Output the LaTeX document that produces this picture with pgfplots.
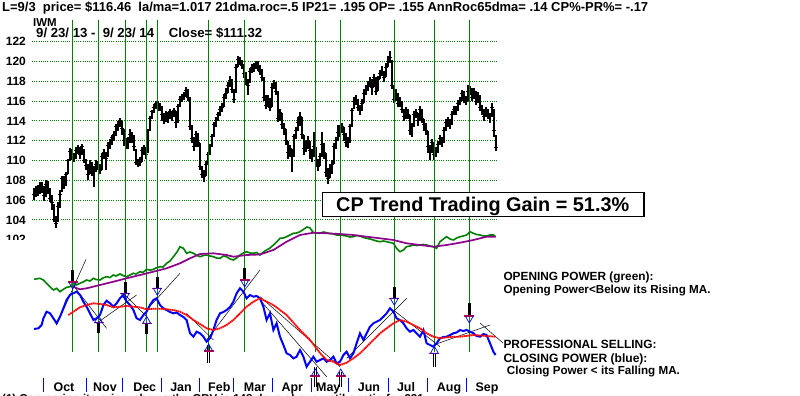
\documentclass[border=0pt]{standalone}
\usepackage{fontspec}
\setmainfont{Liberation Sans}
\usepackage{graphicx}
\usepackage{pgfplots}
\pgfplotsset{compat=1.18}
\usepackage{pgfplotstable}
\definecolor{grn}{RGB}{0,128,0}
\definecolor{purp}{RGB}{140,0,140}
\newcommand\hb[1]{\bfseries\fontsize{#1}{#1}\selectfont}
\pgfplotstableread{
k lo hi cl
0 106.0 107.2 106.6
1 106.3 107.4 107.0
2 106.4 107.5 106.8
3 106.6 107.8 107.4
4 106.7 107.8 107.2
5 105.9 107.4 106.5
6 106.3 108.0 107.6
7 106.6 107.9 107.0
8 105.8 107.2 106.2
9 105.0 106.5 105.8
10 103.8 105.6 104.0
11 103.2 104.4 103.6
12 103.8 105.8 105.4
13 105.2 107.0 106.6
14 106.8 108.4 108.2
15 107.1 108.4 107.5
16 107.4 108.8 108.6
17 108.6 110.2 110.0
18 109.9 111.3 110.9
19 110.0 111.2 110.4
20 109.8 110.8 110.2
21 110.2 111.4 111.0
22 110.7 111.6 111.2
23 110.2 111.4 110.6
24 110.6 111.7 111.4
25 109.7 111.2 110.0
26 109.0 110.2 109.5
27 108.0 109.6 108.6
28 108.6 110.0 109.6
29 108.4 109.8 108.8
30 107.3 109.4 109.0
31 108.8 110.0 109.6
32 109.0 109.9 109.4
33 108.6 109.6 109.0
34 109.0 110.8 110.4
35 110.2 111.2 110.8
36 109.0 110.9 110.2
37 110.4 111.9 111.5
38 111.2 112.2 111.8
39 111.6 112.6 112.3
40 112.0 113.0 112.6
41 112.5 113.7 113.4
42 113.0 114.0 113.6
43 113.4 114.3 114.0
44 112.6 114.0 113.2
45 111.5 113.2 112.0
46 111.2 112.3 111.6
47 111.2 112.4 111.8
48 111.8 113.2 112.6
49 111.8 112.9 112.4
50 111.0 112.6 111.4
51 109.5 111.2 109.8
52 109.3 110.2 109.6
53 109.4 110.4 109.8
54 109.8 111.4 111.0
55 110.6 111.6 111.3
56 110.2 111.4 110.6
57 110.8 113.2 113.0
58 113.0 114.5 114.2
59 114.2 115.1 114.9
60 114.8 115.7 115.4
61 115.2 116.0 115.8
62 115.0 116.0 115.3
63 115.0 115.8 115.5
64 114.0 115.5 114.6
65 113.7 114.8 114.0
66 113.9 115.0 114.6
67 113.8 114.9 114.3
68 114.2 115.2 114.9
69 114.0 115.0 114.5
70 114.4 115.3 115.0
71 113.3 115.0 113.8
72 113.8 115.7 115.5
73 115.4 116.5 116.2
74 115.9 116.7 116.4
75 116.1 116.9 116.6
76 116.4 117.4 117.1
77 116.0 117.2 116.4
78 113.1 116.4 113.4
79 111.8 113.6 112.2
80 111.0 112.4 111.4
81 111.4 113.0 112.6
82 111.4 112.8 111.8
83 109.0 111.8 109.4
84 108.2 109.4 108.6
85 107.8 109.0 108.4
86 108.4 109.9 109.6
87 109.6 110.9 110.6
88 110.6 111.7 111.4
89 111.4 112.7 112.4
90 112.4 113.9 113.6
91 113.4 114.4 114.0
92 114.0 114.9 114.6
93 114.5 115.5 115.2
94 114.9 115.8 115.4
95 115.4 116.7 116.4
96 116.2 117.3 116.8
97 116.8 117.9 117.6
98 117.4 118.5 118.1
99 116.8 118.2 117.2
100 115.8 117.2 116.2
101 116.8 119.7 119.4
102 119.4 120.6 120.2
103 119.6 120.5 120.0
104 119.2 120.2 119.6
105 118.3 119.7 118.8
106 117.6 118.9 118.0
107 116.6 118.2 117.6
108 117.8 119.3 119.0
109 118.8 119.7 119.4
110 118.9 119.8 119.3
111 119.2 120.1 119.8
112 119.0 120.0 119.4
113 118.6 119.6 119.0
114 118.0 119.2 118.4
115 116.0 118.4 116.4
116 115.2 116.6 115.6
117 115.4 116.6 116.2
118 115.0 116.3 115.4
119 115.4 117.8 117.4
120 117.2 118.1 117.8
121 116.6 117.9 117.0
122 113.9 117.0 114.2
123 114.0 115.2 114.8
124 113.2 114.8 113.6
125 112.6 113.8 113.2
126 111.6 113.2 112.0
127 110.2 112.0 110.8
128 110.4 111.6 111.2
129 108.8 111.2 110.4
130 110.4 112.7 112.4
131 112.2 113.4 113.0
132 113.0 114.4 113.8
133 113.5 114.9 114.4
134 112.2 114.4 112.6
135 110.6 112.6 111.2
136 110.9 112.0 111.6
137 111.2 112.5 112.0
138 110.2 112.0 111.0
139 109.8 111.2 110.4
140 110.4 112.9 111.4
141 109.4 111.4 110.0
142 108.9 110.2 109.4
143 109.4 110.8 110.4
144 110.4 112.9 111.6
145 110.2 111.8 110.8
146 108.3 110.8 108.8
147 107.6 109.2 108.2
148 108.2 109.6 109.0
149 108.6 110.0 109.6
150 109.6 111.8 111.4
151 111.2 112.4 112.0
152 112.0 113.6 112.8
153 112.4 113.6 113.0
154 112.8 113.8 113.4
155 112.0 113.4 112.6
156 111.4 112.8 111.8
157 111.3 112.4 111.8
158 111.8 113.7 113.4
159 113.4 115.3 115.0
160 115.2 116.4 116.0
161 115.6 116.6 116.2
162 115.0 116.2 115.4
163 114.6 115.6 115.0
164 115.0 116.2 115.8
165 115.8 117.2 116.8
166 116.6 117.6 117.2
167 117.0 118.0 117.6
168 117.4 118.4 118.0
169 116.6 118.2 117.4
170 117.4 118.7 118.4
171 116.6 118.4 117.0
172 117.0 118.5 118.2
173 118.2 119.1 118.8
174 118.5 119.5 119.0
175 117.9 119.0 118.4
176 118.4 119.8 119.4
177 119.4 120.6 120.0
178 119.8 121.1 120.4
179 117.2 120.2 117.6
180 115.8 117.6 116.2
181 116.0 117.2 116.8
182 115.4 116.8 115.8
183 115.4 116.4 116.0
184 114.8 116.0 115.2
185 114.0 115.2 114.4
186 114.2 115.4 115.0
187 114.2 115.2 114.6
188 112.6 114.6 113.0
189 112.4 113.8 113.4
190 113.4 115.0 114.6
191 114.3 115.2 114.8
192 113.5 114.8 114.0
193 114.0 115.5 115.2
194 113.8 115.2 114.2
195 113.0 114.2 113.6
196 112.6 113.8 113.0
197 110.8 113.0 111.4
198 110.0 111.6 110.8
199 110.8 112.2 111.8
200 110.0 111.8 110.6
201 110.4 111.4 111.0
202 110.8 112.0 111.6
203 111.6 112.6 112.2
204 111.4 112.4 111.8
205 111.8 113.4 113.0
206 113.0 114.2 113.8
207 113.4 114.4 114.0
208 113.2 114.2 113.6
209 113.6 115.0 114.6
210 114.6 115.5 115.2
211 114.6 115.5 115.0
212 115.0 116.1 115.8
213 115.6 116.4 116.0
214 116.0 117.1 116.8
215 115.8 117.0 116.2
216 115.6 116.5 116.0
217 116.0 117.6 117.0
218 116.6 117.5 117.2
219 116.0 117.3 116.4
220 116.2 117.3 117.0
221 115.6 117.0 116.0
222 115.8 116.9 116.6
223 115.0 116.6 115.4
224 114.6 115.6 115.0
225 114.0 115.2 114.4
226 114.4 115.4 115.0
227 114.2 115.2 114.6
228 113.8 114.8 114.4
229 114.4 115.8 115.4
230 112.4 115.2 113.0
231 111.0 112.6 111.3
}\price
\pgfplotsset{base/.style={at={(0bp,0bp)},anchor=south west,scale only axis,
  width=800bp,height=395bp,xmin=-17,xmax=383,
  axis line style={draw=none},tick style={draw=none},
  /pgf/number format/assume math mode=true}}
\begin{document}
\begin{tikzpicture}[x=1bp,y=1bp]
\useasboundingbox (0,0) rectangle (800,395);
\clip (0,0) rectangle (800,395);
\fill[white] (0,0) rectangle (800,395);
% ---------------- price panel
\begin{axis}[base, ymin=86.313, ymax=126.212, xtick=\empty,
  ytick={102,104,...,122},
  yticklabel style={anchor=east,xshift=26bp,inner sep=0pt,font=\hb{12}}]
\pgfplotsinvokeforeach{104,106,...,122}{
  \addplot[grn,line width=0.8bp,dash pattern=on 1bp off 1.2bp] coordinates {(-1,#1)(231.5,#1)};}
\addplot[black, only marks, mark=-, mark size=2bp, mark options={line width=1bp},
  error bars/.cd, y dir=both, y explicit, error mark=none,
  error bar style={line width=1.2bp,black}]
  table[x=k,y=cl,y error plus expr=\thisrow{hi}-\thisrow{cl},
        y error minus expr=\thisrow{cl}-\thisrow{lo}]{\price};
\end{axis}
% ---------------- indicator panels
\begin{axis}[base, ymin=0, ymax=395, ytick=\empty,
  xtick={15,35.5,55.35,73.5,92.65,110.5,129.15,147.15,167.5,186,207.5,226.5},
  xticklabels={Oct,Nov,Dec,Jan,Feb,Mar,Apr,May,Jun,Jul,Aug,Sep},
  xticklabel style={anchor=base,yshift=3.3bp,inner sep=0pt,font=\hb{12.5}}]
\fill[white] (axis cs:-17,0) rectangle (axis cs:-1.5,155.5);
\pgfplotsinvokeforeach{19.35,32.25,45.65,56.35,61.65,87.35,105.35,140.65,153.35,180.15,200.2,217.65}{
  \addplot[grn,line width=1.3bp] coordinates {(#1,43)(#1,375)};}
% thin trend lines
\addplot[black,line width=0.5bp] coordinates {(11.3,70)(26,135.7)};
\addplot[black,line width=0.5bp] coordinates {(18.8,111.7)(36.3,66.7)};
\addplot[black,line width=0.5bp] coordinates {(31.3,71.7)(51.3,100)};
\addplot[black,line width=0.5bp] coordinates {(44.7,101.7)(56.3,78.3)};
\addplot[black,line width=0.5bp] coordinates {(56.3,85)(73,121.7)};
\addplot[black,line width=0.5bp] coordinates {(76.3,81.7)(89.7,55)};
\addplot[black,line width=0.5bp] coordinates {(86.3,55)(113,125)};
\addplot[black,line width=0.5bp] coordinates {(113,98.3)(153,28.3)};
\addplot[black,line width=0.5bp] coordinates {(113,95)(146.3,18.3)};
\addplot[black,line width=0.5bp] coordinates {(156.3,36.7)(186.3,96.7)};
\addplot[black,line width=0.5bp] coordinates {(179.7,85)(203,48.3)};
\addplot[black,line width=0.5bp] coordinates {(199.7,50)(228,70)};
\addplot[black,line width=0.5bp] coordinates {(223,72)(234.5,52)};
% opening power and its MA
\addplot[grn,line width=1.6bp] coordinates {(0,115.7)(3,116.7)(4.7,115)(6.3,111.7)(8,108.3)(9.7,105)(11.3,106.7)(13,103.3)(14.7,105.7)(16.3,107.7)(18,108.3)(19.7,111.7)(21,110)(23,111.7)(24.5,113)(26.3,115)(28,114)(29.7,116.7)(31,115.5)(33,115)(34.5,117)(36.3,118.3)(38,117.5)(39.7,120)(41,119)(43,121)(44.5,119.5)(46.3,118.3)(48,120)(49.7,121.7)(51,121)(53,123.3)(54.5,122.5)(56.3,125.7)(58,124.8)(59.7,125.7)(61,127)(63,128.3)(64.5,128)(66.3,131.7)(68,134)(69.7,138.3)(71.5,143)(73,148.3)(74.7,146.7)(76.3,141.7)(78,143)(79.7,141.7)(81.5,139.5)(83,138.3)(84.7,139.5)(86.3,140)(88,139)(89.7,138.3)(91.3,137)(93,136.7)(94.7,139)(96.3,138.3)(98,136)(99.7,135)(101.3,137)(103,140)(104.7,142)(106.3,143.3)(108,142)(109.7,141.7)(111.3,142.5)(113,140)(114.7,143)(116.3,145)(118,147)(119.7,150)(121.3,153)(123,156.7)(124.7,157)(126.3,158.3)(128,160)(129.7,161.7)(131.3,162)(133,163.3)(135,166)(136.5,168)(138,167)(139.7,162.3)(141.3,162)(143,161.7)(144.7,163)(146.3,162.3)(148,161.5)(149.7,161)(151.3,160)(153,160)(154.7,159.5)(156.3,159)(158,158)(159.7,158.3)(161.3,159.5)(163,159)(164.7,157.5)(166.3,156.7)(168,156)(169.7,155)(171.3,154)(173,153.3)(174.7,154)(176.3,153.3)(178,152.5)(179.7,151.7)(181.3,146.7)(183,143.3)(184.7,145)(186.3,148.3)(188,149)(189.7,150)(191.3,149.5)(193,150)(194.7,150.5)(196.3,150)(198,149)(199.7,148.3)(201.3,146.7)(203,153.3)(204.7,156)(206.3,158.3)(208,156)(209.7,155)(211.3,157)(213,158.3)(214.7,159)(216.3,160)(218,163.3)(219.7,161.7)(221.3,160.5)(223,160)(224.7,159)(226.3,159)(228,160)(229.7,160)(230.8,158.3)};
\addplot[purp,line width=1.7bp] coordinates {(19.8,108.3)(21.5,106.7)(23,105.7)(26.3,106.7)(33,110)(39.7,113.3)(46.3,116.7)(53,120)(59.7,123.3)(66.3,126.7)(73,131.7)(78,136.7)(83,141)(89.7,141.7)(96.3,140)(99.7,138.3)(106.3,140)(113,140.5)(119.7,145)(126.3,153.3)(133,160)(139.7,162.3)(146.3,161.7)(153,161)(159.7,160)(166.3,158.3)(173,156.7)(179.7,155)(186.3,151.7)(193,150)(199.7,148.3)(206.3,150)(213,152.3)(219.7,155)(226.3,158.3)(230.8,158.3)};
% closing power and its MA
\addplot[blue,line width=2bp] coordinates {(0,66)(2.2,66.7)(3.8,70)(4.7,76.7)(6.3,83.3)(8,81.7)(9.7,76.7)(11.3,71.7)(13,78.3)(14.7,86.7)(16.3,95)(18,100)(19.7,101.7)(21.3,103.3)(23,100)(24.7,93.3)(26.3,88.3)(28,81.7)(29.7,75)(31.3,76.7)(33,80)(34.7,90)(36.3,94.3)(38,91.7)(39.7,88.3)(41.3,91.7)(43,96.7)(44.7,100)(46.3,93.3)(48,90)(49.7,85)(51.3,76.7)(53,75)(54.7,80)(56.3,83.3)(58,90)(59.7,95)(61.3,96.7)(63,90)(64.7,86.7)(66.3,85)(68,83)(69.7,81.7)(71.3,82.5)(73,80)(74.7,78)(76.3,75)(78,61.7)(79.7,58.3)(81.3,63.3)(83,61.7)(84.7,58.3)(86.3,53.3)(88,56.7)(89.7,65)(91.3,75)(93,81.7)(94.7,83)(96.3,85)(98,88)(99.7,93.3)(101.3,101.7)(103,106.7)(104.7,103.3)(106.3,96.7)(108,100)(109.7,98.3)(111.3,99)(113,96.7)(114.7,88.3)(116.3,75)(118,81.7)(119.7,65)(121.3,71.7)(123,58.3)(124.7,50)(126.3,41.7)(128,40)(129.7,36.7)(131.3,38.3)(133,45)(134.7,38.3)(136.3,28.3)(138,33.3)(139.7,38.3)(141.3,33.3)(143,35)(144.7,36.7)(146.3,33.3)(148,35)(149.7,38.3)(151.3,31.7)(153,33.3)(154.7,40)(156.3,43.3)(158,36.7)(159.7,41.7)(161.3,51.7)(163,61.7)(164.7,55)(166.3,61.7)(168,68.3)(169.7,71.7)(171.3,73.3)(173,75)(174.7,78.3)(176.3,81.7)(178,86.7)(179.7,83.3)(181.3,76.7)(183,75)(184.7,71.7)(186.3,66.7)(188,63.3)(189.7,65)(191.3,61.7)(193,58.3)(194.7,65)(196.3,51.7)(198,50)(199.7,48.3)(201.3,51.7)(203,56.7)(204.7,58)(206.3,58.3)(208,60)(209.7,61.7)(211.3,62.5)(213,65)(214.7,64)(216.3,65)(218,63.3)(219.7,61.7)(221.3,59)(223,58.3)(224.7,61)(226.3,60)(228,51.7)(229.7,43.3)(230.8,40)};
\addplot[red,line width=1.8bp,dash pattern=on 1.6bp off 0.5bp] coordinates {(17.2,80)(19.7,83.3)(23,87.7)(26.3,90)(29.7,91.7)(33,91)(36.3,90)(39.7,87.7)(43,88.3)(46.3,89)(49.7,88.3)(53,87.7)(56.3,85.7)(59.7,86.3)(63,86.3)(66.3,85.7)(69.7,85)(73,83.3)(76.3,80)(79.7,75)(83,71)(86.3,66.7)(89.7,65)(93,66.7)(96.3,70)(99.7,75)(103,81.7)(106.3,88.3)(109.7,93.3)(113,96.7)(119.7,90)(126.3,80)(133,65)(138,55)(143,42)(146.3,35)(149.7,33.3)(153,30)(156.3,32.3)(159.7,36.7)(163,41.7)(166.3,48.3)(169.7,55)(173,61.7)(176.3,66.7)(179.7,71.7)(183,75)(186.3,73.3)(189.7,70)(193,66.7)(196.3,61.7)(199.7,58.3)(203,56.7)(206.3,57.7)(209.7,58.3)(213,58.3)(219.7,60)(226.3,59)(230.8,58.3)};
% signals: thick bars
\addplot[black,line width=2.6bp] coordinates {(19.35,125)(19.35,113)};
\addplot[black,line width=2.6bp] coordinates {(32.25,72.3)(32.25,62)};
\addplot[black,line width=2.6bp] coordinates {(45.65,113.3)(45.65,101.7)};
\addplot[black,line width=2.6bp] coordinates {(56.35,71.7)(56.35,61)};
\addplot[black,line width=2.6bp] coordinates {(61.65,118.3)(61.65,106.7)};
\addplot[black,line width=2.6bp] coordinates {(105.35,126.7)(105.35,115)};
\addplot[black,line width=2.6bp] coordinates {(180.15,108.3)(180.15,96.7)};
\addplot[black,line width=2.6bp] coordinates {(217.65,91.7)(217.65,79)};
% signals: double thin bars
\addplot[black,line width=0.9bp] coordinates {(86.75,32.3)(86.75,50)};
\addplot[black,line width=0.9bp] coordinates {(87.95,32.3)(87.95,50)};
\addplot[black,line width=0.9bp] coordinates {(140.05,8.3)(140.05,28.3)};
\addplot[black,line width=0.9bp] coordinates {(141.25,8.3)(141.25,28.3)};
\addplot[black,line width=0.9bp] coordinates {(152.75,8.3)(152.75,23.3)};
\addplot[black,line width=0.9bp] coordinates {(153.95,8.3)(153.95,23.3)};
\addplot[black,line width=0.9bp] coordinates {(199.6,28.3)(199.6,41.7)};
\addplot[black,line width=0.9bp] coordinates {(200.8,28.3)(200.8,41.7)};
% signals: red levels
\addplot[red,line width=1.3bp] coordinates {(16.85,113)(21.85,113)};
\addplot[red,line width=1.3bp] coordinates {(29.75,72.3)(34.75,72.3)};
\addplot[red,line width=1.3bp] coordinates {(43.15,101.7)(48.15,101.7)};
\addplot[red,line width=1.3bp] coordinates {(53.85,71.7)(58.85,71.7)};
\addplot[red,line width=1.3bp] coordinates {(59.15,106.7)(64.15,106.7)};
\addplot[red,line width=1.3bp] coordinates {(84.85,44)(89.85,44)};
\addplot[red,line width=1.3bp] coordinates {(102.85,115)(107.85,115)};
\addplot[red,line width=1.3bp] coordinates {(138.15,19)(143.15,19)};
\addplot[red,line width=1.3bp] coordinates {(150.85,19)(155.85,19)};
\addplot[red,line width=1.3bp] coordinates {(177.65,96.7)(182.65,96.7)};
\addplot[red,line width=1.3bp] coordinates {(197.7,41.7)(202.7,41.7)};
\addplot[red,line width=1.3bp] coordinates {(215.15,79)(220.15,79)};
% signals: blue triangles
\addplot[blue,line width=0.7bp] coordinates {(17.35,113)(21.35,113)(19.35,106)(17.35,113)};
\addplot[blue,line width=0.7bp] coordinates {(30.25,72.3)(34.25,72.3)(32.25,79.3)(30.25,72.3)};
\addplot[blue,line width=0.7bp] coordinates {(43.65,101.7)(47.65,101.7)(45.65,94.7)(43.65,101.7)};
\addplot[blue,line width=0.7bp] coordinates {(54.35,71.7)(58.35,71.7)(56.35,78.7)(54.35,71.7)};
\addplot[blue,line width=0.7bp] coordinates {(59.65,106.7)(63.65,106.7)(61.65,99.7)(59.65,106.7)};
\addplot[blue,line width=0.7bp] coordinates {(85.35,44)(89.35,44)(87.35,51)(85.35,44)};
\addplot[blue,line width=0.7bp] coordinates {(103.35,115)(107.35,115)(105.35,108)(103.35,115)};
\addplot[blue,line width=0.7bp] coordinates {(138.65,19)(142.65,19)(140.65,26)(138.65,19)};
\addplot[blue,line width=0.7bp] coordinates {(151.35,19)(155.35,19)(153.35,26)(151.35,19)};
\addplot[blue,line width=0.7bp] coordinates {(178.15,96.7)(182.15,96.7)(180.15,89.7)(178.15,96.7)};
\addplot[blue,line width=0.7bp] coordinates {(198.2,41.7)(202.2,41.7)(200.2,48.7)(198.2,41.7)};
\addplot[blue,line width=0.7bp] coordinates {(215.65,79)(219.65,79)(217.65,72)(215.65,79)};
% month separators
\pgfplotsinvokeforeach{4.65,26,44.35,63.5,82.5,99.65,119.35,138.85,157.15,177.15,196.65,216.35}{
  \addplot[blue,line width=1bp] coordinates {(#1,3)(#1,17.3)};}
\end{axis}
% ---------------- texts
\node[anchor=base west,inner sep=0] at (2,384) {\resizebox{646bp}{!}{\hb{11.5}L=9/3\ \ price= \$116.46\ \ la/ma=1.017 21dma.roc=.5 IP21= .195 OP= .155 AnnRoc65dma= .14 CP\%-PR\%= -.17}};
\node[anchor=base west,inner sep=0] at (33,368.3) {\hb{11.5}IWM};
\node[anchor=base west,inner sep=0] at (36,357.3) {\resizebox{226bp}{!}{\hb{11.5}9/ 23/ 13 -\ \ 9/ 23/ 14\ \ \ \ Close= \$111.32}};
\node[draw=black,line width=1.2bp,fill=white,minimum width=321.7bp,minimum height=24.4bp,inner sep=0] at (483.15,190.5) {};
\node[anchor=base west,inner sep=0] at (336,184) {\resizebox{293bp}{!}{\hb{20}CP Trend Trading Gain = 51.3\%}};
\node[anchor=base west,inner sep=0] at (503.3,114.3) {\resizebox{150bp}{!}{\hb{10}OPENING POWER (green):}};
\node[anchor=base west,inner sep=0] at (503.3,101.7) {\resizebox{207bp}{!}{\hb{10}Opening Power<Below its Rising MA.}};
\node[anchor=base west,inner sep=0] at (503.3,46.7) {\resizebox{153bp}{!}{\hb{10}PROFESSIONAL SELLING:}};
\node[anchor=base west,inner sep=0] at (503.3,32.7) {\resizebox{144bp}{!}{\hb{10}CLOSING POWER (blue):}};
\node[anchor=base west,inner sep=0] at (506.7,20.7) {\resizebox{173bp}{!}{\hb{10}Closing Power < its Falling MA.}};
\node[anchor=base west,inner sep=0] at (2,-7.2) {\hb{11.5}(1) Comparing its price, shows the OBV is 148 days above until a ratio for 221};
\end{tikzpicture}
\end{document}
